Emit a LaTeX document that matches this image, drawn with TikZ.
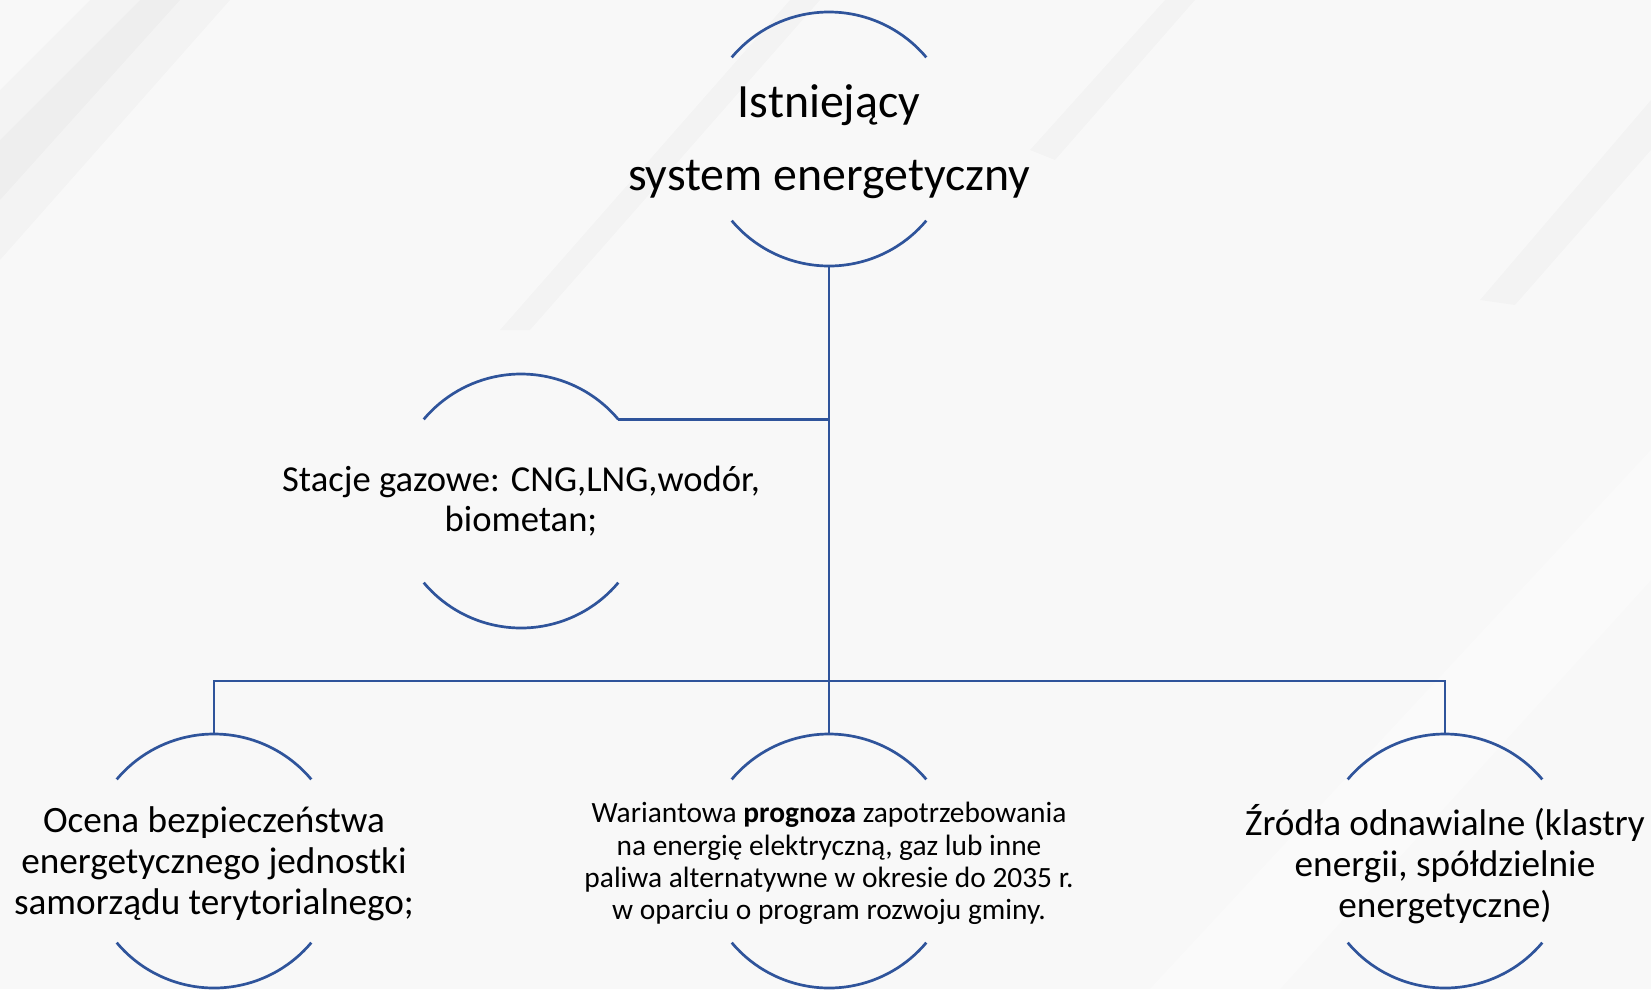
\documentclass[tikz,border=0pt]{standalone}
\usepackage{fontspec}
\setmainfont{Carlito}
\usetikzlibrary{fadings}
\definecolor{linecol}{RGB}{47,84,155}
\definecolor{bgcol}{RGB}{248,248,248}
\begin{document}
\begin{tikzpicture}[x=1pt,y=1pt,
  ring/.style={circle,minimum size=254pt,inner sep=0pt,outer sep=0pt},
  arcline/.style={draw=linecol,line width=2.7pt},
  conn/.style={draw=linecol,line width=2.7pt},
  label/.style={align=center,inner sep=0pt,text=black},
  streak/.style={fill=black,opacity=0.018}]
\useasboundingbox (0,0) rectangle (1651,-989);
\fill[bgcol] (0,0) rectangle (1651,-989);
% subtle diagonal streaks
\fill[streak] (0,-90) -- (90,0) -- (230,0) -- (0,-260) -- cycle;
\fill[streak] (0,-140) -- (140,0) -- (180,0) -- (0,-200) -- cycle;
\fill[streak] (500,-330) -- (790,0) -- (820,0) -- (530,-330) -- cycle;
\fill[streak] (1030,-150) -- (1165,0) -- (1195,0) -- (1055,-160) -- cycle;
\fill[streak] (1480,-300) -- (1651,-100) -- (1651,-150) -- (1515,-305) -- cycle;
\fill[white,opacity=0.35] (1150,-989) -- (1651,-450) -- (1651,-580) -- (1280,-989) -- cycle;

% circles (invisible shapes)
\node[ring] (top) at (829,-139) {};
\node[ring] (asst) at (521,-501) {};
\node[ring] (left) at (214,-861) {};
\node[ring] (mid) at (829,-861) {};
\node[ring] (right) at (1445,-861) {};

\foreach \n in {top,asst,left,mid,right}{
  \draw[arcline] (\n.40) arc[start angle=40,end angle=140,radius=127pt];
  \draw[arcline] (\n.220) arc[start angle=220,end angle=320,radius=127pt];
}

% connectors
\coordinate (bus) at (829,-681);
\draw[conn] (top.south) -- (mid.north);
\draw[conn] (top.south |- asst.40) -- (asst.40);
\draw[conn] (left.north) |- (bus) -| (right.north);

% texts
\node[label,font=\fontsize{47.8}{73}\selectfont,yshift=-3pt] (ttop) at (top.center) {Istniejący\\system energetyczny};
\node[label,font=\fontsize{36.6}{39.5}\selectfont] (tasst) at (asst.center) {Stacje gazowe: CNG,LNG,wodór,\\biometan;};
\node[label,font=\fontsize{37.2}{41}\selectfont,yshift=-3pt] (tleft) at (left.center) {Ocena bezpieczeństwa\\energetycznego jednostki\\samorządu terytorialnego;};
\node[label,font=\fontsize{29.4}{32.3}\selectfont,yshift=-2.5pt] (tmid) at (mid.center) {Wariantowa \textbf{prognoza} zapotrzebowania\\na energię elektryczną, gaz lub inne\\paliwa alternatywne w okresie do 2035 r.\\w oparciu o program rozwoju gminy.};
\node[label,font=\fontsize{37.2}{41}\selectfont,yshift=-3pt] (tright) at (right.center) {Źródła odnawialne (klastry\\energii, spółdzielnie\\energetyczne)};
\end{tikzpicture}
\end{document}
